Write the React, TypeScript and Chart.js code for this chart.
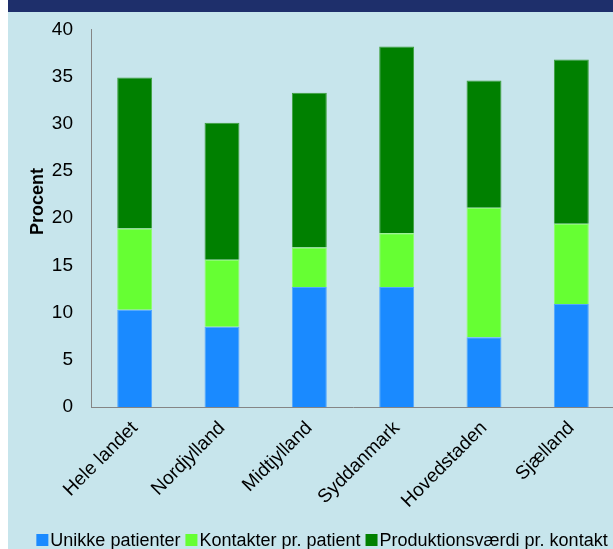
import { useEffect, useRef } from "react";
import { Chart, registerables } from "chart.js";

Chart.register(...registerables);

// Regions and the three stacked components (percent)
const regions = ["Hele landet", "Nordjylland", "Midtjylland", "Syddanmark", "Hovedstaden", "Sjælland"];
const unikkePatienter = [10.3, 8.5, 12.7, 12.7, 7.4, 10.9];
const kontakterPrPatient = [8.6, 7.1, 4.2, 5.7, 13.7, 8.5];
const produktionsvaerdiPrKontakt = [16.0, 14.5, 16.4, 19.8, 13.5, 17.4];

const seriesLabels = ["Unikke patienter", "Kontakter pr. patient", "Produktionsværdi pr. kontakt"];
const yTickValues = [0, 5, 10, 15, 20, 25, 30, 35, 40];
const yAxisTitle = "Procent";

const FONT = "'Liberation Sans', Arial, sans-serif";
const TEXT = "#000000";

// Compact legend: small squares directly followed by their text, centred under the plot
const compactLegend = {
  id: "compactLegend",
  afterDraw(chart: any) {
    const ctx = chart.ctx as CanvasRenderingContext2D;
    ctx.save();
    ctx.font = `18px ${FONT}`;
    const box = 12;
    const gapText = 2;
    const gapItem = 5;
    const items = chart.data.datasets.map((ds: any) => ({
      label: ds.label as string,
      color: ds.backgroundColor as string,
      w: ctx.measureText(ds.label).width,
    }));
    const total =
      items.reduce((s: number, it: any) => s + box + gapText + it.w, 0) + gapItem * (items.length - 1);
    let x = chart.width / 2 - total / 2;
    const cy = chart.height - 9;
    ctx.textBaseline = "middle";
    ctx.textAlign = "left";
    for (const it of items) {
      ctx.fillStyle = it.color;
      ctx.fillRect(x, cy - box / 2, box, box);
      x += box + gapText;
      ctx.fillStyle = TEXT;
      ctx.fillText(it.label, x, cy + 1);
      x += it.w + gapItem;
    }
    ctx.restore();
  },
};

// Vertical axis title drawn beside the value labels
const axisTitle = {
  id: "axisTitle",
  afterDraw(chart: any) {
    const ctx = chart.ctx as CanvasRenderingContext2D;
    const area = chart.chartArea;
    ctx.save();
    ctx.translate(area.left - 53, area.top + 172);
    ctx.rotate(-Math.PI / 2);
    ctx.font = `bold 18px ${FONT}`;
    ctx.fillStyle = TEXT;
    ctx.textAlign = "center";
    ctx.textBaseline = "middle";
    ctx.fillText(yAxisTitle, 0, 0);
    ctx.restore();
  },
};

export default function App() {
  const canvasRef = useRef<HTMLCanvasElement | null>(null);

  useEffect(() => {
    const canvas = canvasRef.current;
    if (!canvas) return;
    const chart = new Chart(canvas, {
      type: "bar",
      data: {
        labels: regions,
        datasets: [
          {
            label: seriesLabels[0],
            data: unikkePatienter,
            backgroundColor: "#1A8AFF",
            borderColor: "#52A6FF",
            borderWidth: 1,
          },
          {
            label: seriesLabels[1],
            data: kontakterPrPatient,
            backgroundColor: "#66FF33",
            borderColor: "#8CFF66",
            borderWidth: 1,
          },
          {
            label: seriesLabels[2],
            data: produktionsvaerdiPrKontakt,
            backgroundColor: "#008000",
            borderColor: "#3C9E3C",
            borderWidth: 1,
          },
        ],
      },
      plugins: [compactLegend, axisTitle],
      options: {
        responsive: false,
        maintainAspectRatio: false,
        animation: false,
        devicePixelRatio: 1,
        layout: { padding: { top: 23, right: 21, left: 0, bottom: 0 } },
        datasets: {
          bar: { barPercentage: 0.4, categoryPercentage: 1 },
        },
        plugins: {
          legend: { display: false },
          tooltip: { enabled: false },
          title: { display: false },
        },
        scales: {
          x: {
            stacked: true,
            grid: { display: false, drawTicks: false },
            border: { display: true, color: "#858585", width: 1 },
            ticks: {
              minRotation: 45,
              maxRotation: 45,
              padding: 10,
              color: TEXT,
              font: { family: FONT, size: 19 },
            },
            afterFit: (s: any) => {
              s.height = 142;
            },
          },
          y: {
            stacked: true,
            min: 0,
            max: 40,
            grid: { display: false, drawTicks: false },
            border: { display: true, color: "#858585", width: 1 },
            ticks: {
              padding: 18,
              color: TEXT,
              font: { family: FONT, size: 19 },
            },
            afterBuildTicks: (s: any) => {
              s.ticks = yTickValues.map((v) => ({ value: v }));
            },
            afterFit: (s: any) => {
              s.width = 83;
            },
          },
        },
      },
    });
    return () => chart.destroy();
  }, []);

  return (
    <div
      style={{
        position: "absolute",
        left: 8,
        top: 0,
        width: 605,
        height: 549,
        overflow: "hidden",
        background: "#C7E5EC",
      }}
    >
      <canvas ref={canvasRef} width={628} height={549} style={{ display: "block", width: 628, height: 549 }} />
      <div
        style={{ position: "absolute", left: 0, top: 0, width: "100%", height: 12, background: "#1E2F6B" }}
      />
    </div>
  );
}
